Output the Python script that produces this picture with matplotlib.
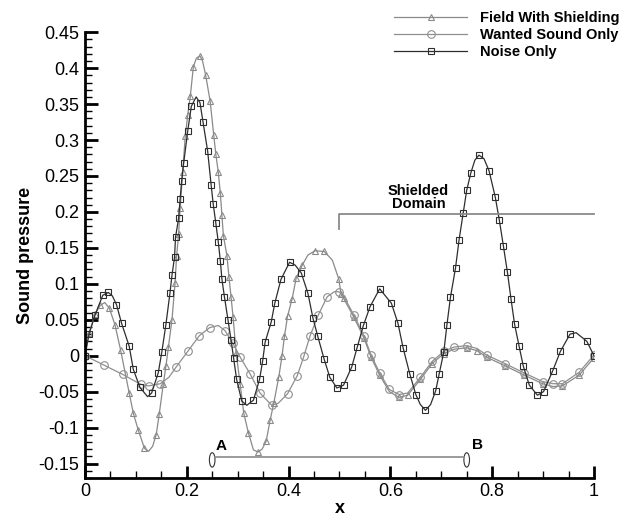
import matplotlib
matplotlib.use("Agg")
import matplotlib.pyplot as plt
from matplotlib.patches import Ellipse
from matplotlib.ticker import MultipleLocator, FormatStrFormatter

plt.rcParams["font.family"] = ["Liberation Sans", "DejaVu Sans"]
plt.rcParams["axes.unicode_minus"] = False

# field with shielding (triangles)
x_field = [0.0, 0.008, 0.020, 0.030, 0.039, 0.048, 0.059, 0.070, 0.087, 0.095, 0.105, 0.117,
           0.125, 0.133, 0.140, 0.146, 0.154, 0.159, 0.164, 0.171, 0.177, 0.180, 0.184, 0.187,
           0.192, 0.197, 0.202, 0.207, 0.213, 0.219, 0.226, 0.231, 0.237, 0.246, 0.253, 0.257,
           0.262, 0.266, 0.269, 0.272, 0.279, 0.283, 0.287, 0.291, 0.297, 0.305, 0.312, 0.321,
           0.331, 0.340, 0.348, 0.356, 0.364, 0.371, 0.381, 0.387, 0.392, 0.398, 0.407, 0.415,
           0.427, 0.438, 0.452, 0.470, 0.486, 0.499, 0.503, 0.508, 0.528, 0.548, 0.562, 0.579,
           0.598, 0.617, 0.634, 0.659, 0.682, 0.705, 0.725, 0.750, 0.770, 0.789, 0.825, 0.863,
           0.899, 0.920, 0.938, 0.971, 1.0]
y_field = [0.0, 0.031, 0.058, 0.070, 0.074, 0.066, 0.043, 0.008, -0.052, -0.080, -0.104, -0.129,
           -0.133, -0.126, -0.110, -0.081, -0.039, -0.015, 0.012, 0.050, 0.101, 0.138, 0.169, 0.205,
           0.255, 0.305, 0.335, 0.361, 0.402, 0.414, 0.417, 0.410, 0.391, 0.354, 0.307, 0.281,
           0.255, 0.226, 0.196, 0.167, 0.139, 0.109, 0.082, 0.054, 0.004, -0.040, -0.080, -0.107,
           -0.131, -0.134, -0.130, -0.119, -0.089, -0.066, -0.029, -0.001, 0.027, 0.055, 0.079, 0.108,
           0.126, 0.140, 0.146, 0.145, 0.133, 0.106, 0.086, 0.080, 0.054, 0.025, -0.002, -0.027,
           -0.050, -0.058, -0.055, -0.033, -0.011, 0.003, 0.009, 0.011, 0.007, -0.002, -0.014, -0.027,
           -0.039, -0.043, -0.042, -0.027, -0.003]

# wanted sound only (circles)
x_wanted = [0.0, 0.037, 0.074, 0.110, 0.125, 0.148, 0.165, 0.179, 0.202, 0.225, 0.245, 0.262,
            0.275, 0.290, 0.305, 0.325, 0.344, 0.367, 0.380, 0.398, 0.417, 0.430, 0.442, 0.458,
            0.476, 0.490, 0.499, 0.508, 0.528, 0.548, 0.562, 0.579, 0.598, 0.617, 0.634, 0.659,
            0.682, 0.705, 0.725, 0.750, 0.770, 0.789, 0.825, 0.863, 0.899, 0.920, 0.938, 0.971, 1.0]
y_wanted = [0.0, -0.013, -0.026, -0.040, -0.042, -0.039, -0.030, -0.016, 0.006, 0.028, 0.039, 0.042,
            0.035, 0.018, -0.002, -0.026, -0.052, -0.069, -0.066, -0.053, -0.028, -0.001, 0.027, 0.056,
            0.082, 0.089, 0.089, 0.083, 0.057, 0.028, 0.001, -0.024, -0.047, -0.054, -0.052, -0.030,
            -0.008, 0.006, 0.012, 0.014, 0.010, 0.001, -0.011, -0.024, -0.036, -0.039, -0.039, -0.023, 0.001]

# noise only (squares)
x_noise = [0.0, 0.008, 0.020, 0.035, 0.046, 0.054, 0.062, 0.072, 0.087, 0.095, 0.108, 0.123,
           0.131, 0.144, 0.151, 0.159, 0.167, 0.171, 0.176, 0.178, 0.184, 0.187, 0.190, 0.194,
           0.202, 0.209, 0.2185, 0.226, 0.232, 0.241, 0.248, 0.252, 0.257, 0.262, 0.266, 0.269,
           0.274, 0.281, 0.287, 0.292, 0.298, 0.308, 0.318, 0.331, 0.343, 0.349, 0.354, 0.366,
           0.373, 0.385, 0.402, 0.413, 0.425, 0.438, 0.448, 0.457, 0.470, 0.481, 0.495, 0.508,
           0.524, 0.535, 0.547, 0.560, 0.579, 0.602, 0.615, 0.625, 0.638, 0.650, 0.659, 0.669,
           0.679, 0.689, 0.696, 0.705, 0.711, 0.718, 0.728, 0.735, 0.743, 0.750, 0.758, 0.766,
           0.774, 0.784, 0.794, 0.806, 0.814, 0.822, 0.830, 0.837, 0.844, 0.853, 0.861, 0.873,
           0.889, 0.901, 0.919, 0.934, 0.953, 0.965, 0.986, 1.0]
y_noise = [0.0, 0.030, 0.057, 0.084, 0.088, 0.083, 0.071, 0.045, 0.013, -0.019, -0.044, -0.057,
           -0.052, -0.024, 0.005, 0.043, 0.087, 0.112, 0.137, 0.165, 0.191, 0.218, 0.243, 0.268,
           0.313, 0.347, 0.360, 0.352, 0.325, 0.285, 0.237, 0.211, 0.185, 0.158, 0.132, 0.107,
           0.082, 0.050, 0.022, -0.003, -0.033, -0.063, -0.069, -0.062, -0.033, -0.008, 0.019, 0.047,
           0.073, 0.106, 0.130, 0.126, 0.115, 0.087, 0.052, 0.028, -0.005, -0.030, -0.045, -0.041,
           -0.016, 0.012, 0.042, 0.068, 0.093, 0.073, 0.045, 0.011, -0.025, -0.054, -0.068, -0.076,
           -0.068, -0.049, -0.025, 0.005, 0.042, 0.081, 0.122, 0.161, 0.198, 0.230, 0.254, 0.272,
           0.279, 0.274, 0.257, 0.221, 0.189, 0.153, 0.116, 0.079, 0.044, 0.013, -0.014, -0.041,
           -0.055, -0.050, -0.021, 0.006, 0.030, 0.032, 0.020, 0.0]

fig = plt.figure(figsize=(6.2, 5.2), dpi=100)
ax = fig.add_axes([0.137, 0.081, 0.821, 0.857])

ax.plot(x_field, y_field, '-', color='#8a8a8a', lw=0.9, marker='^', ms=5,
        mfc='none', mec='#8a8a8a', mew=0.8, markevery=0.026, label='Field With Shielding')
ax.plot(x_wanted, y_wanted, '-', color='#8f8f8f', lw=0.9, marker='o', ms=5.5,
        mfc='none', mec='#8f8f8f', mew=0.8, markevery=0.026, label='Wanted Sound Only')
ax.plot(x_noise, y_noise, '-', color='#2e2e2e', lw=0.9, marker='s', ms=5,
        mfc='none', mec='#2e2e2e', mew=0.8, markevery=0.026, label='Noise Only')

# shielded domain bracket
ax.plot([0.5, 0.5, 1.0], [0.176, 0.197, 0.197], color='#8a8a8a', lw=1.3, clip_on=False)
ax.text(0.655, 0.220, 'Shielded\nDomain', ha='center', va='center', fontsize=10.5,
        fontweight='bold', linespacing=0.95)

# A-B line with end markers
ax.plot([0.256, 0.745], [-0.141, -0.141], color='#8a8a8a', lw=1.2)
for xe in (0.25, 0.75):
    ax.add_patch(Ellipse((xe, -0.145), 0.011, 0.02, fill=False, ec='#333333', lw=0.8))
ax.text(0.257, -0.126, 'A', fontsize=11, fontweight='bold', ha='left', va='center')
ax.text(0.76, -0.124, 'B', fontsize=11, fontweight='bold', ha='left', va='center')

ax.set_xlim(0, 1)
ax.set_ylim(-0.17, 0.45)
ax.xaxis.set_major_locator(MultipleLocator(0.2))
ax.xaxis.set_minor_locator(MultipleLocator(0.05))
ax.yaxis.set_major_locator(MultipleLocator(0.05))
ax.yaxis.set_minor_locator(MultipleLocator(0.01))
ax.xaxis.set_major_formatter(FormatStrFormatter('%g'))
ax.yaxis.set_major_formatter(FormatStrFormatter('%g'))
ax.tick_params(which='major', direction='in', length=9, width=2, labelsize=13, pad=4)
ax.tick_params(which='minor', direction='in', length=5, width=1)
ax.spines['right'].set_visible(False)
ax.spines['top'].set_visible(False)
ax.spines['left'].set_linewidth(2)
ax.spines['bottom'].set_linewidth(2)

ax.set_xlabel('x', fontsize=13, fontweight='bold', labelpad=0)
ax.set_ylabel('Sound pressure', fontsize=13, fontweight='bold', labelpad=3)

fig.legend(loc='upper left', bbox_to_anchor=(0.622, 0.995), frameon=False, handlelength=5.0,
           numpoints=1, labelspacing=0.2, handletextpad=0.9, borderaxespad=0.2,
           prop={'weight': 'bold', 'size': 10.5})

fig.savefig('out.png', dpi=100)
